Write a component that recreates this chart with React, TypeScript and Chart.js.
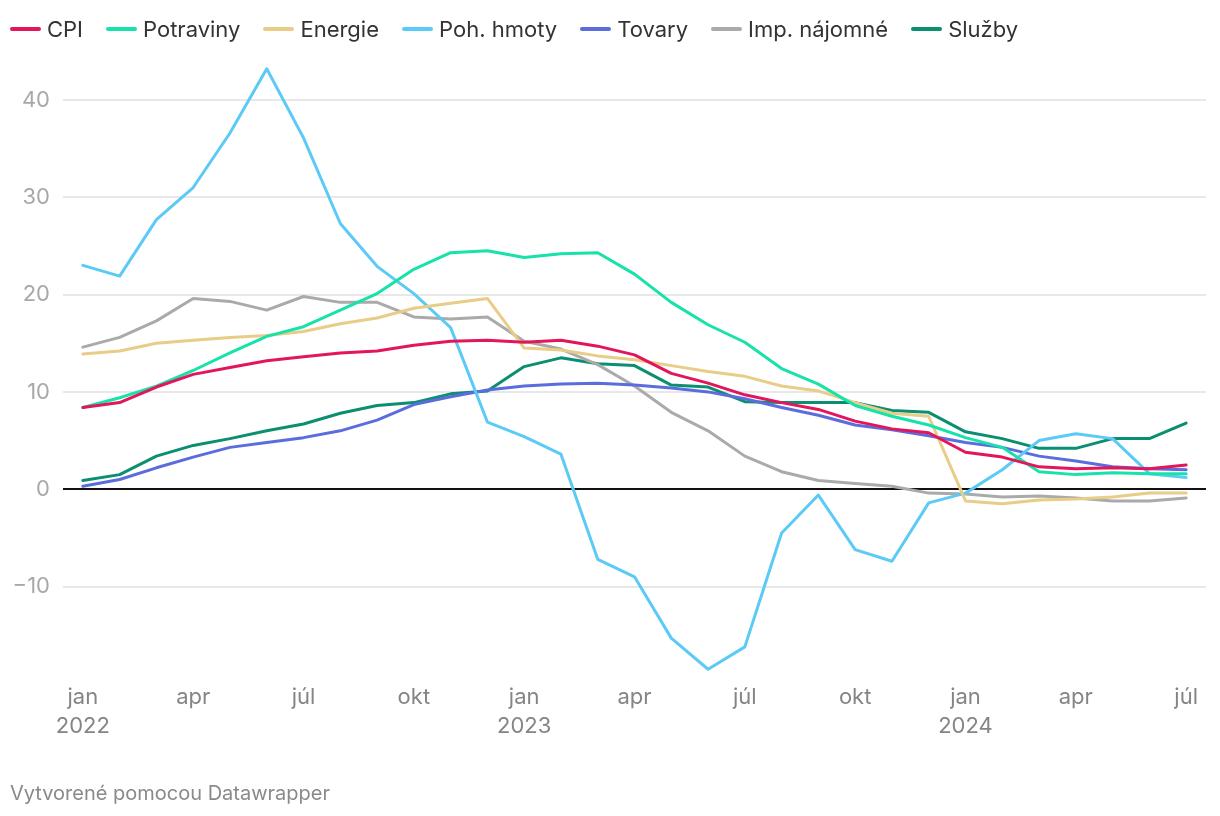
import React, { useEffect, useRef } from "react";
import { Chart, registerables } from "chart.js";

Chart.register(...registerables);

const MONTHS = Array.from({ length: 31 }, (_, i) => i);
const TICK_LABELS: (string | string[])[] = [
  ["jan", "2022"], "apr", "júl", "okt",
  ["jan", "2023"], "apr", "júl", "okt",
  ["jan", "2024"], "apr", "júl",
];
const Y_TICKS = [-10, 0, 10, 20, 30, 40];

const CPI = [8.4, 8.9, 10.5, 11.8, 12.5, 13.2, 13.6, 14.0, 14.2, 14.8, 15.2, 15.3, 15.1, 15.3, 14.7, 13.8, 11.9, 10.9, 9.7, 8.9, 8.2, 7.0, 6.2, 5.8, 3.8, 3.3, 2.3, 2.1, 2.2, 2.1, 2.5];
const POTRAVINY = [8.4, 9.4, 10.6, 12.2, 14.0, 15.7, 16.7, 18.4, 20.1, 22.6, 24.3, 24.5, 23.8, 24.2, 24.3, 22.1, 19.2, 16.9, 15.1, 12.4, 10.8, 8.6, 7.5, 6.6, 5.3, 4.3, 1.8, 1.5, 1.7, 1.6, 1.6];
const ENERGIE = [13.9, 14.2, 15.0, 15.3, 15.6, 15.8, 16.2, 17.0, 17.6, 18.6, 19.1, 19.6, 14.5, 14.3, 13.7, 13.3, 12.7, 12.1, 11.6, 10.6, 10.1, 8.9, 7.8, 7.5, -1.2, -1.5, -1.1, -1.0, -0.8, -0.4, -0.4];
const POH_HMOTY = [23.0, 21.9, 27.7, 31.0, 36.6, 43.2, 36.1, 27.3, 22.9, 20.1, 16.6, 6.9, 5.4, 3.6, -7.2, -9.0, -15.3, -18.5, -16.2, -4.5, -0.6, -6.2, -7.4, -1.4, -0.4, 2.0, 5.0, 5.7, 5.2, 1.6, 1.2];
const TOVARY = [0.3, 1.0, 2.2, 3.3, 4.3, 4.8, 5.3, 6.0, 7.1, 8.7, 9.5, 10.2, 10.6, 10.8, 10.9, 10.7, 10.4, 10.0, 9.3, 8.4, 7.6, 6.6, 6.1, 5.5, 4.8, 4.3, 3.4, 2.9, 2.3, 2.1, 2.0];
const IMP_NAJOMNE = [14.6, 15.6, 17.3, 19.6, 19.3, 18.4, 19.8, 19.2, 19.2, 17.7, 17.5, 17.7, 15.2, 14.4, 12.8, 10.6, 7.9, 6.0, 3.4, 1.8, 0.9, 0.6, 0.3, -0.4, -0.5, -0.8, -0.7, -0.9, -1.2, -1.2, -0.9];
const SLUZBY = [0.9, 1.5, 3.4, 4.5, 5.2, 6.0, 6.7, 7.8, 8.6, 8.9, 9.8, 10.1, 12.6, 13.5, 12.9, 12.7, 10.7, 10.5, 9.0, 8.9, 8.9, 8.9, 8.1, 7.9, 5.9, 5.2, 4.2, 4.2, 5.2, 5.2, 6.8];

const SERIES_NAMES = ["CPI", "Potraviny", "Energie", "Poh. hmoty", "Tovary", "Imp. nájomné", "Služby"];
const SERIES_VALUES = [CPI, POTRAVINY, ENERGIE, POH_HMOTY, TOVARY, IMP_NAJOMNE, SLUZBY];
const SERIES_COLORS = ["#e3165b", "#17e2a9", "#e8cc87", "#5ccaf6", "#5b6ddd", "#aaaaaa", "#0a8f71"];

const FONT = "Inter, Roboto, 'Noto Sans', sans-serif";

export default function App() {
  const canvasRef = useRef<HTMLCanvasElement | null>(null);

  useEffect(() => {
    const canvas = canvasRef.current;
    if (!canvas) return;
    const chart = new Chart(canvas, {
      type: "line",
      data: {
        labels: MONTHS,
        datasets: SERIES_NAMES.map((name, i) => ({
          label: name,
          data: SERIES_VALUES[i].map((v, j) => ({ x: MONTHS[j], y: v })),
          borderColor: SERIES_COLORS[i],
          backgroundColor: SERIES_COLORS[i],
          borderWidth: 3,
          pointRadius: 0,
          tension: 0,
          fill: false,
          borderJoinStyle: "round" as const,
          borderCapStyle: "round" as const,
        })),
      },
      options: {
        responsive: false,
        animation: false,
        events: [],
        layout: { padding: { top: 61, right: 14, left: 0, bottom: 0 } },
        plugins: {
          legend: { display: false },
          tooltip: { enabled: false },
        },
        scales: {
          x: {
            type: "linear",
            min: -0.54,
            max: 30.54,
            afterBuildTicks: (axis: any) => {
              axis.ticks = TICK_LABELS.map((_, i) => ({ value: i * 3 }));
            },
            afterFit: (axis: any) => {
              axis.height = 137;
            },
            grid: { display: false, drawTicks: false },
            border: { display: false },
            ticks: {
              autoSkip: false,
              maxRotation: 0,
              padding: 4,
              color: "#858585",
              font: { family: FONT, size: 22, lineHeight: 1.3 },
              callback: (value: any) => TICK_LABELS[Math.round(Number(value) / 3)],
            },
          },
          y: {
            type: "linear",
            min: -19.5,
            max: 44,
            afterBuildTicks: (axis: any) => {
              axis.ticks = Y_TICKS.map((v) => ({ value: v }));
            },
            afterFit: (axis: any) => {
              axis.width = 63;
            },
            grid: {
              drawTicks: false,
              lineWidth: 2,
              color: (ctx: any) => (ctx.tick && ctx.tick.value === 0 ? "#111111" : "#e8e8e8"),
            },
            border: { display: false },
            ticks: {
              padding: 13,
              color: "#a8a8a8",
              font: { family: FONT, size: 22 },
              callback: (value: any) => {
                const n = Number(value);
                return n < 0 ? "\u2212" + Math.abs(n) : String(n);
              },
            },
          },
        },
      },
    });
    return () => chart.destroy();
  }, []);

  return (
    <div style={{ position: "absolute", left: 0, top: 0, width: 1220, height: 816, fontFamily: FONT, background: "#fff" }}>
      <canvas ref={canvasRef} width={1220} height={816} style={{ position: "absolute", left: 0, top: 0, width: 1220, height: 816 }} />
      <div style={{ position: "absolute", left: 10, top: 14, display: "flex", alignItems: "center", height: 30 }}>
        {SERIES_NAMES.map((name, i) => (
          <div key={name} style={{ display: "flex", alignItems: "center", marginRight: 23 }}>
            <span style={{ display: "inline-block", width: 31, height: 4, borderRadius: 2, background: SERIES_COLORS[i], marginRight: 6 }} />
            <span style={{ fontSize: 22, color: "#333333", lineHeight: "30px" }}>{name}</span>
          </div>
        ))}
      </div>
      <div style={{ position: "absolute", left: 10, top: 780, fontSize: 20, color: "#8a8a8a", lineHeight: "26px" }}>
        Vytvorené pomocou Datawrapper
      </div>
    </div>
  );
}
